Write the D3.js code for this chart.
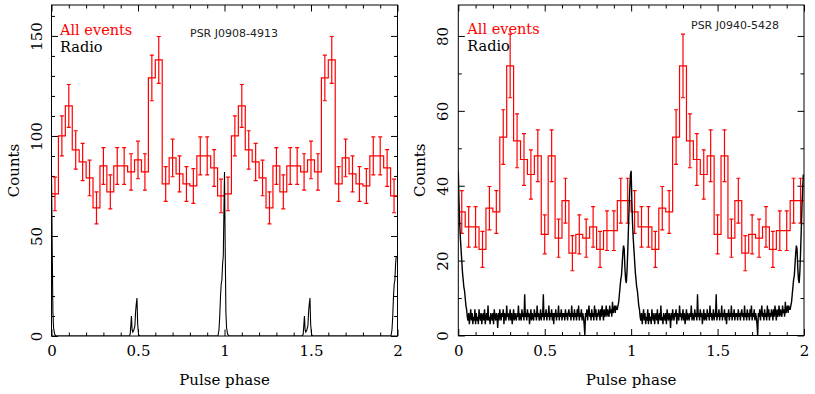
<!DOCTYPE html>
<html>
<head>
<meta charset="utf-8">
<script src="https://cdn.jsdelivr.net/npm/d3@7"></script>
<style>
  body { margin: 0; background: #fff; }
  svg { display: block; }
</style>
</head>
<body>
<div id="chart"></div>
<script>
// gamma-ray light curves: 25 bins per rotation, shown over two rotations
const binsL = [71, 100, 115, 93, 87, 79, 64, 85, 72, 85, 85, 82, 88, 82, 129, 138, 76, 89, 81, 76, 75, 90, 90, 84, 70];
const errL  = [8.4, 10, 10.7, 9.6, 9.3, 8.9, 8, 9.2, 8.5, 9.2, 9.2, 9.1, 9.4, 9.1, 11.4, 11.7, 8.7, 9.4, 9, 8.7, 8.7, 9.5, 9.5, 9.2, 8.4];
const binsR = [33, 29, 29, 23, 34, 33, 53, 72, 52, 47, 43, 48, 27, 48, 26, 36, 22, 27, 26, 29, 23, 28, 28, 36, 36];
const errR  = [5.7, 5.4, 5.4, 4.8, 5.8, 5.7, 7.3, 8.5, 7.2, 6.9, 6.6, 6.9, 5.2, 6.9, 5.1, 6, 4.7, 5.2, 5.1, 5.4, 4.8, 5.3, 5.3, 6, 6];

// radio profile J0908-4913 (one rotation, sparse samples, zero elsewhere)
const radioPhaseL = [0, 0.004, 0.008, 0.012, 0.018, 0.026, 0.45, 0.455, 0.459, 0.462, 0.466, 0.470, 0.476, 0.482, 0.486, 0.490, 0.494, 0.498, 0.503, 0.508, 0.962, 0.968, 0.972, 0.977, 0.981, 0.985, 0.989, 0.993];
const radioValL   = [82, 45, 12, 4, 1, 0, 0, 1, 6, 10, 3, 2, 3, 5, 12, 16, 19, 6, 1, 0, 0, 3, 9, 20, 26, 28, 36, 40];

// radio profile J0940-5428 (one rotation, 250 phase samples)
const radioR = [
  44, 36, 30, 26, 23, 20, 17, 15, 13, 12, 10, 8, 7, 5,
  4, 6, 3, 5, 7, 4, 6, 3, 5, 4, 7, 3,
  6, 4, 5, 3, 7, 5, 4, 6, 3, 5, 6, 4,
  7, 3, 5, 6, 4, 8, 4, 5, 3, 6, 5, 4,
  6, 3, 7, 5, 4, 6, 5, 2, 6, 4, 7, 5,
  4, 6, 5, 7, 3, 6, 5, 4, 8, 5, 6, 4,
  5, 7, 4, 6, 3, 5, 7, 4, 6, 5, 4, 6,
  5, 8, 4, 6, 5, 4, 7, 5, 6, 4, 11, 5,
  6, 4, 7, 5, 6, 3, 5, 7, 4, 6, 5, 4,
  7, 5, 6, 4, 8, 5, 6, 4, 5, 7, 4, 6,
  5, 11, 4, 6, 5, 7, 4, 6, 5, 8, 4, 6,
  5, 7, 4, 6, 3, 6, 5, 7, 4, 6, 5, 8,
  4, 6, 5, 7, 4, 6, 5, 6, 4, 7, 5, 6,
  4, 6, 7, 5, 6, 4, 8, 5, 6, 4, 7, 5,
  6, 4, 7, 5, 8, 4, 6, 5, 7, 4, 6, 5,
  3, 0, 6, 5, 7, 4, 6, 8, 5, 6, 4, 7,
  5, 6, 4, 8, 5, 7, 4, 6, 5, 7, 6, 4,
  7, 5, 8, 6, 4, 7, 5, 6, 8, 5, 7, 6,
  5, 8, 6, 7, 5, 9, 6, 7, 8, 6, 8, 7,
  7, 8, 9, 11, 13, 15, 16, 19, 22, 24, 23, 18, 15, 14, 17, 22, 28, 34, 39, 43
];

const cycles = [0, 1];
const xMajor = [0, 0.5, 1, 1.5, 2];
const xTickLabels = ["0", "0.5", "1", "1.5", "2"];
const xMinor = [0.1, 0.2, 0.3, 0.4, 0.6, 0.7, 0.8, 0.9, 1.1, 1.2, 1.3, 1.4, 1.6, 1.7, 1.8, 1.9];
const yMajorL = [0, 50, 100, 150];
const yMinorL = [10, 20, 30, 40, 60, 70, 80, 90, 110, 120, 130, 140, 160];
const yMajorR = [0, 20, 40, 60, 80];
const yMinorR = [10, 30, 50, 70];

const W = 815, H = 394;
const serif = "'DejaVu Serif', serif";
const RED = "#ff0000";

const svg = d3.select("#chart").append("svg")
  .attr("width", W).attr("height", H);

const panels = [
  { left: 51.5, right: 397.5, top: 5, bottom: 336, yMax: 165.45,
    yMajor: yMajorL, yMinor: yMinorL, bins: binsL, errs: errL,
    radio: cycles.flatMap(c => radioPhaseL.map((p, i) => [c + p, radioValL[i]])),
    radioWidth: 1.1,
    psr: "PSR J0908-4913", psrX: 190, psrY: 37.3,
    legX: 60, legY1: 35, legY2: 52, yTitleX: 18.5, yTickOff: -9.5 },
  { left: 458.3, right: 804, top: 5, bottom: 335.5, yMax: 88.27,
    yMajor: yMajorR, yMinor: yMinorR, bins: binsR, errs: errR,
    radio: cycles.flatMap(c => radioR.map((v, i) => [c + i / radioR.length, v])),
    radioWidth: 1.4,
    psr: "PSR J0940-5428", psrX: 691, psrY: 29.3,
    legX: 467.3, legY1: 34, legY2: 51, yTitleX: 424.5, yTickOff: -10.5 }
];

panels.forEach(p => drawPanel(p));

function drawPanel(p) {
  const x = d3.scaleLinear().domain([0, 2]).range([p.left, p.right]);
  const y = d3.scaleLinear().domain([0, p.yMax]).range([p.bottom, p.top]);
  const g = svg.append("g");

  const clipId = "clip" + Math.round(p.left);
  svg.append("clipPath").attr("id", clipId)
    .append("rect")
    .attr("x", p.left).attr("y", p.top)
    .attr("width", p.right - p.left).attr("height", p.bottom - p.top);

  // ticks (inward, on all four sides)
  const tickAxis = (axis, tx, ty, size, values, fmt) => {
    const a = g.append("g")
      .attr("transform", `translate(${tx},${ty})`)
      .call(axis.tickValues(values).tickSize(-size).tickSizeOuter(0).tickFormat(fmt || (() => "")));
    a.select(".domain").remove();
    a.selectAll("line").attr("stroke", "#000").attr("stroke-width", 1);
    return a;
  };

  const xb = tickAxis(d3.axisBottom(x), 0, p.bottom, 6.5, xMajor, (d, i) => xTickLabels[i]);
  xb.attr("font-family", serif).attr("font-size", 15);
  xb.selectAll("text").attr("y", 20).attr("dy", null).attr("fill", "#000");
  tickAxis(d3.axisBottom(x), 0, p.bottom, 3.5, xMinor);
  tickAxis(d3.axisTop(x), 0, p.top, 6.5, xMajor);
  tickAxis(d3.axisTop(x), 0, p.top, 3.5, xMinor);

  const yl = tickAxis(d3.axisLeft(y), p.left, 0, 6.5, p.yMajor, d => d);
  yl.attr("font-family", serif).attr("font-size", 15);
  yl.selectAll("text")
    .attr("x", 0).attr("dy", null)
    .attr("text-anchor", "middle")
    .attr("fill", "#000")
    .attr("transform", `translate(${p.yTickOff},0) rotate(-90)`);
  tickAxis(d3.axisLeft(y), p.left, 0, 3.5, p.yMinor);
  tickAxis(d3.axisRight(y), p.right, 0, 6.5, p.yMajor);
  tickAxis(d3.axisRight(y), p.right, 0, 3.5, p.yMinor);

  // frame
  g.append("rect")
    .attr("x", p.left).attr("y", p.top)
    .attr("width", p.right - p.left).attr("height", p.bottom - p.top)
    .attr("fill", "none").attr("stroke", "#000").attr("stroke-width", 1);

  // histogram
  const n = p.bins.length;
  const hist = cycles.flatMap(c => p.bins.map((v, i) => ({
    x0: c + i / n, x1: c + (i + 1) / n, v, e: p.errs[i]
  })));
  const steps = hist.map(d => [d.x0, d.v]).concat([[2, hist[hist.length - 1].v]]);

  const plot = g.append("g").attr("clip-path", `url(#${clipId})`);

  plot.append("path")
    .attr("d", d3.line().x(d => x(d[0])).y(d => y(d[1])).curve(d3.curveStepAfter)(steps))
    .attr("fill", "none").attr("stroke", RED).attr("stroke-width", 1.2);

  const eb = plot.append("g").attr("stroke", RED).attr("stroke-width", 1.2);
  eb.selectAll("line.bar").data(hist).join("line").attr("class", "bar")
    .attr("x1", d => x((d.x0 + d.x1) / 2)).attr("x2", d => x((d.x0 + d.x1) / 2))
    .attr("y1", d => y(d.v - d.e)).attr("y2", d => y(d.v + d.e));
  [-1, 1].forEach(s => {
    eb.selectAll("line.cap" + (s > 0 ? "u" : "d")).data(hist).join("line")
      .attr("class", "cap" + (s > 0 ? "u" : "d"))
      .attr("x1", d => x((d.x0 + d.x1) / 2) - 2).attr("x2", d => x((d.x0 + d.x1) / 2) + 2)
      .attr("y1", d => y(d.v + s * d.e)).attr("y2", d => y(d.v + s * d.e));
  });

  // radio profile
  plot.append("path")
    .attr("d", d3.line().x(d => x(d[0])).y(d => y(d[1]))(p.radio))
    .attr("fill", "none").attr("stroke", "#000").attr("stroke-width", p.radioWidth);

  // titles and labels
  g.append("text")
    .attr("transform", `translate(${p.yTitleX},${(p.top + p.bottom) / 2}) rotate(-90)`)
    .attr("text-anchor", "middle")
    .attr("font-family", serif).attr("font-size", 15)
    .text("Counts");
  g.append("text")
    .attr("x", x(1)).attr("y", 385)
    .attr("text-anchor", "middle")
    .attr("font-family", serif).attr("font-size", 15)
    .text("Pulse phase");
  g.append("text")
    .attr("x", p.legX).attr("y", p.legY1)
    .attr("font-family", serif).attr("font-size", 14.5).attr("fill", RED)
    .text("All events");
  g.append("text")
    .attr("x", p.legX).attr("y", p.legY2)
    .attr("font-family", serif).attr("font-size", 14.5).attr("fill", "#000")
    .text("Radio");
  g.append("text")
    .attr("x", p.psrX).attr("y", p.psrY)
    .attr("font-family", "'DejaVu Sans', sans-serif").attr("font-size", 11)
    .attr("fill", "#222")
    .text(p.psr);
}
</script>
</body>
</html>
